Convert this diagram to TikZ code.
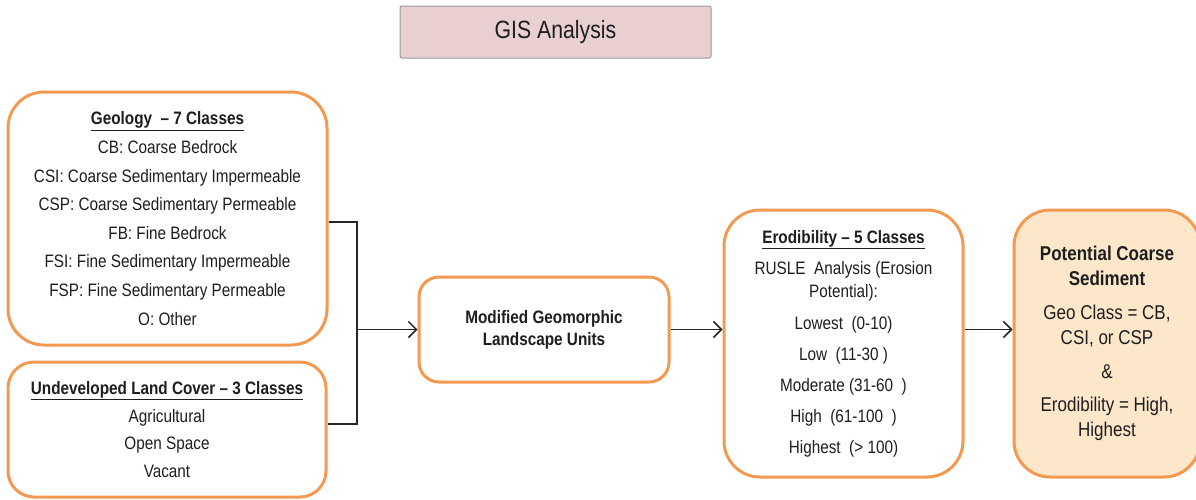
\documentclass[tikz,border=0pt]{standalone}
\usepackage{fontspec}
\setmainfont{Liberation Sans}[FakeStretch=0.85]
\usetikzlibrary{arrows.meta}
\definecolor{accorange}{HTML}{F39A52}
\definecolor{peach}{HTML}{FDE7CB}
\definecolor{rosefill}{HTML}{E8D0D1}
\definecolor{inkgray}{HTML}{1E1E1E}
\begin{document}
\begin{tikzpicture}[x=1pt,y=-1pt,
  box/.style={draw=accorange, line width=3pt, fill=white, align=center,
    text=inkgray, inner sep=0pt},
  conn/.style={draw=black!85, line width=1.5pt},
  arrowline/.style={conn, -{Straight Barb[length=8pt,width=16pt,line width=1.5pt]}}]
\useasboundingbox (0,0) rectangle (1196,499);
\clip (0,0) rectangle (1196,499);
\fill[white] (0,0) rectangle (1196,499);

% title banner
\node[draw=black!40, line width=1pt, fill=rosefill, rounded corners=2pt,
  minimum width=311pt, minimum height=52pt, text=inkgray,
  font=\fontsize{25}{28}\selectfont] (gis) at (555.5,32) {GIS Analysis};

% input layers
\node[box, rounded corners=36pt, minimum width=319pt, minimum height=253pt,
  font=\fontsize{18}{28.6}\selectfont] (geo) at (167.5,218.5)
  {{\bfseries\underline{Geology\ \ -- 7 Classes}}\\
   CB: Coarse Bedrock\\
   CSI: Coarse Sedimentary Impermeable\\
   CSP: Coarse Sedimentary Permeable\\
   FB: Fine Bedrock\\
   FSI: Fine Sedimentary Impermeable\\
   FSP: Fine Sedimentary Permeable\\
   O: Other};

\node[box, rounded corners=26pt, minimum width=318pt, minimum height=135pt,
  font=\fontsize{18}{27.7}\selectfont] (land) at (167,429.5)
  {{\bfseries\underline{Undeveloped Land Cover -- 3 Classes}}\\
   Agricultural\\
   Open Space\\
   Vacant};

% processing steps
\node[box, rounded corners=20pt, minimum width=250pt, minimum height=105pt,
  font=\fontsize{18}{22}\selectfont\bfseries] (mglu) at (544,329.5)
  {Modified Geomorphic\\ Landscape Units};

\node[box, rounded corners=36pt, minimum width=239pt, minimum height=267pt,
  font=\fontsize{18}{23}\selectfont] (erod) at (843.5,343.5)
  {{\bfseries\underline{Erodibility -- 5 Classes}}\\[8pt]
   RUSLE\ \ Analysis (Erosion\\
   Potential):\\[9pt]
   Lowest\ \ (0-10)\\[8pt]
   Low\ \ (11-30 )\\[8pt]
   Moderate (31-60\ \ )\\[8pt]
   High\ \ (61-100\ \ )\\[8pt]
   Highest\ \ (> 100)};

\node[box, fill=peach, rounded corners=36pt, minimum width=186pt, minimum height=267pt,
  font=\fontsize{20}{25}\selectfont] (pcs) at (1107,343.5)
  {{\bfseries Potential Coarse}\\
   {\bfseries Sediment}\\[9pt]
   Geo Class = CB,\\
   CSI, or CSP\\[9pt]
   \&\\[8pt]
   Erodibility\ = High,\\
   Highest};

% connectors: both layers merge, then a single flow line runs to the right
\coordinate (join) at (357,329.5);
\draw[conn] ([yshift=-3.5pt]geo.east) -| (join);
\draw[conn] ([yshift=5.5pt]land.east) -| (join);
\draw[arrowline] (join) -- (mglu.west);
\draw[arrowline] (mglu.east) -- (mglu.east -| erod.west);
\draw[arrowline] (erod.east |- mglu.east) -- (pcs.west |- mglu.east);
\end{tikzpicture}
\end{document}
